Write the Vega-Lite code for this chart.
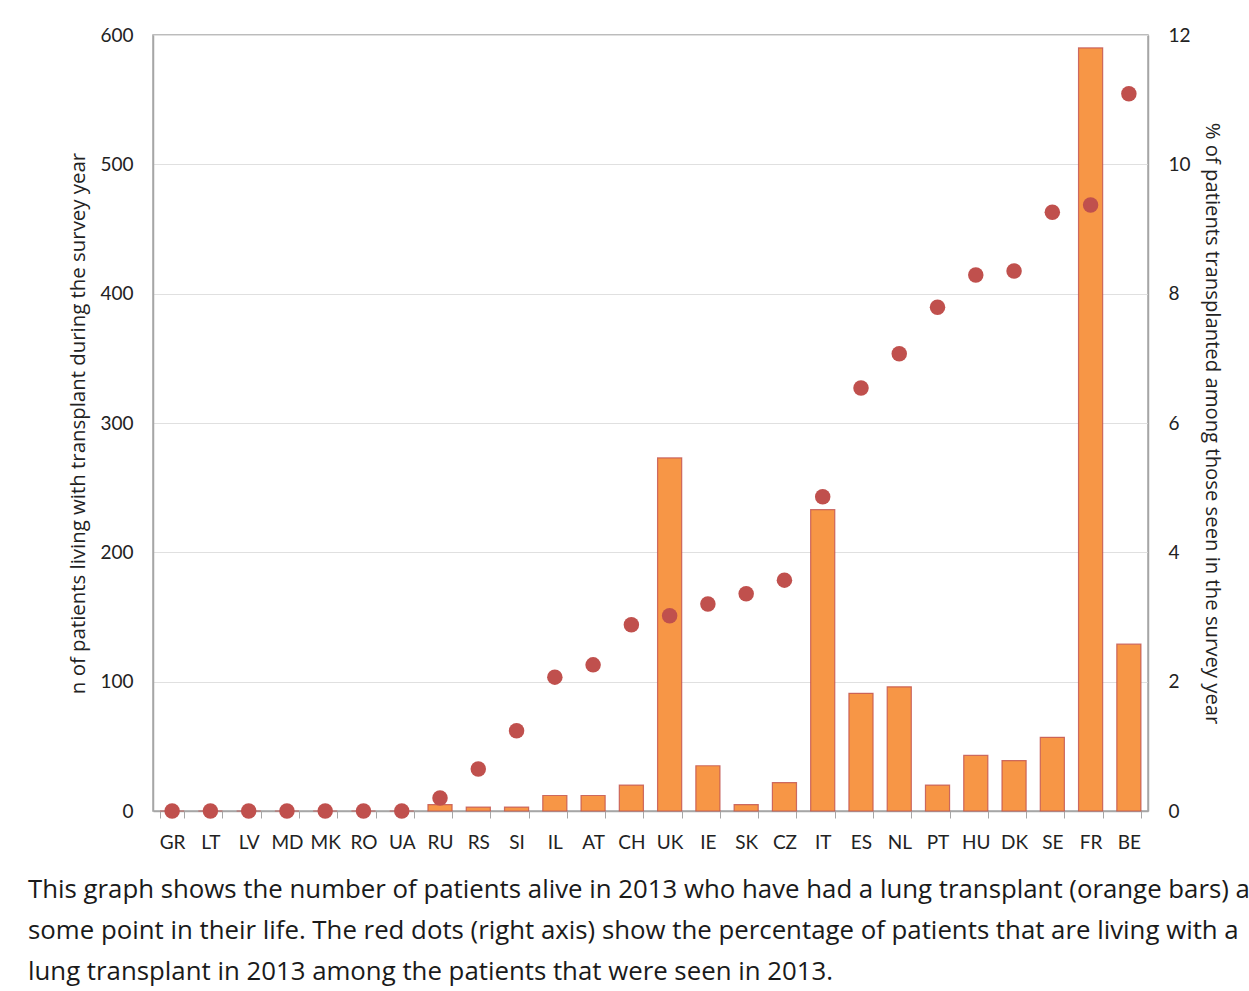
{
  "$schema": "https://vega.github.io/schema/vega-lite/v6.json",
  "autosize": {"type": "none"},
  "width": 995,
  "height": 776,
  "padding": {"left": 153, "top": 35, "right": 101, "bottom": 180},
  "background": "white",
  "config": {
    "font": "Lato",
    "view": {"stroke": "#a6a6a6", "strokeWidth": 1.5},
    "axis": {"labelFont": "Lato", "titleFont": "Open Sans", "labelColor": "#222", "titleColor": "#222", "titleFontWeight": "normal"}
  },
  "title": {
    "text": [
      "This graph shows the number of patients alive in 2013 who have had a lung transplant (orange bars) at",
      "some point in their life. The red dots (right axis) show the percentage of patients that are living with a",
      "lung transplant in 2013 among the patients that were seen in 2013."
    ],
    "orient": "bottom",
    "anchor": "start",
    "frame": "group",
    "dx": -125,
    "offset": 26,
    "font": "Open Sans",
    "fontSize": 25.8,
    "fontWeight": "normal",
    "color": "#1a1a1a",
    "lineHeight": 41
  },
  "data": {
    "values": [
      {"country": "GR", "n": 0, "pct": 0},
      {"country": "LT", "n": 0, "pct": 0},
      {"country": "LV", "n": 0, "pct": 0},
      {"country": "MD", "n": 0, "pct": 0},
      {"country": "MK", "n": 0, "pct": 0},
      {"country": "RO", "n": 0, "pct": 0},
      {"country": "UA", "n": 0, "pct": 0},
      {"country": "RU", "n": 5, "pct": 0.2},
      {"country": "RS", "n": 3, "pct": 0.65},
      {"country": "SI", "n": 3, "pct": 1.24},
      {"country": "IL", "n": 12, "pct": 2.07},
      {"country": "AT", "n": 12, "pct": 2.26},
      {"country": "CH", "n": 20, "pct": 2.88},
      {"country": "UK", "n": 273, "pct": 3.02},
      {"country": "IE", "n": 35, "pct": 3.2},
      {"country": "SK", "n": 5, "pct": 3.36},
      {"country": "CZ", "n": 22, "pct": 3.57},
      {"country": "IT", "n": 233, "pct": 4.86},
      {"country": "ES", "n": 91, "pct": 6.54},
      {"country": "NL", "n": 96, "pct": 7.07},
      {"country": "PT", "n": 20, "pct": 7.79},
      {"country": "HU", "n": 43, "pct": 8.29},
      {"country": "DK", "n": 39, "pct": 8.35},
      {"country": "SE", "n": 57, "pct": 9.26},
      {"country": "FR", "n": 590, "pct": 9.37},
      {"country": "BE", "n": 129, "pct": 11.09}
    ]
  },
  "encoding": {
    "x": {
      "field": "country",
      "type": "nominal",
      "sort": null,
      "scale": {"paddingInner": 0.37, "paddingOuter": 0.185},
      "axis": {
        "title": null,
        "labelAngle": 0,
        "labelFontSize": 19,
        "labelPadding": 15,
        "tickBand": "extent",
        "tickSize": 7,
        "tickColor": "#a6a6a6",
        "domainColor": "#a6a6a6",
        "domainWidth": 1.5,
        "grid": false
      }
    }
  },
  "layer": [
    {
      "mark": {"type": "bar", "color": "#F79646", "stroke": "#C0504D", "strokeWidth": 1.2, "strokeOpacity": 0.8},
      "encoding": {
        "y": {
          "field": "n",
          "type": "quantitative",
          "scale": {"domain": [0, 600]},
          "axis": {
            "title": "n of patients living with transplant during the survey year",
            "titleFontSize": 20.4,
            "titlePadding": 11,
            "labelFontSize": 19,
            "labelPadding": 20,
            "ticks": false,
            "tickCount": 6,
            "domainColor": "#a6a6a6",
            "domainWidth": 1.5,
            "gridColor": "#e0e0e0",
            "gridWidth": 1.2
          }
        }
      }
    },
    {
      "mark": {"type": "circle", "color": "#C0504D", "opacity": 1, "size": 240},
      "encoding": {
        "y": {
          "field": "pct",
          "type": "quantitative",
          "scale": {"domain": [0, 12]},
          "axis": {
            "orient": "right",
            "title": "% of patients transplanted among those seen in the survey year",
            "titleFontSize": 20.3,
            "titlePadding": 11,
            "labelFontSize": 19,
            "labelPadding": 20,
            "ticks": false,
            "tickCount": 6,
            "grid": false,
            "domainColor": "#a6a6a6",
            "domainWidth": 1.5
          }
        }
      }
    }
  ],
  "resolve": {"scale": {"y": "independent"}}
}
